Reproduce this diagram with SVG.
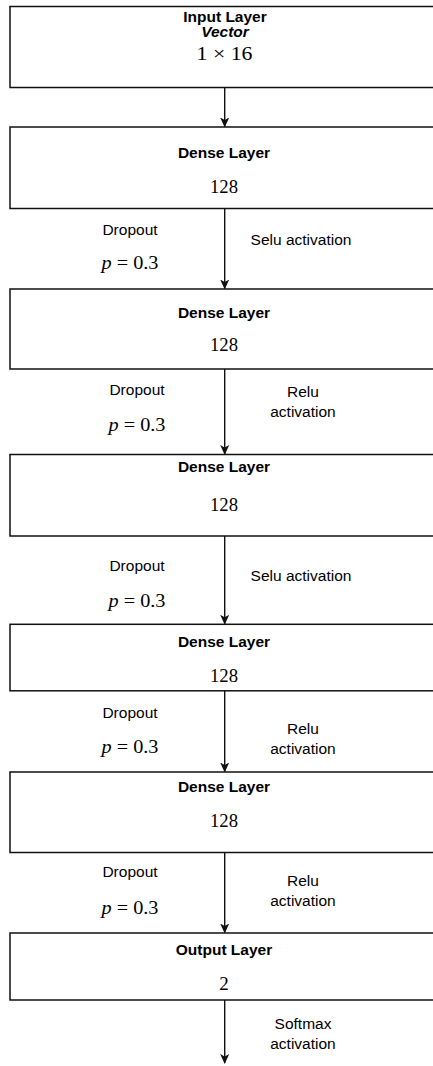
<svg xmlns="http://www.w3.org/2000/svg" width="433" height="1066" viewBox="0 0 433 1066">
<style>
.box{fill:#fff;stroke:#111;stroke-width:1.5}
.t{font-family:"Liberation Sans",Arial,sans-serif;font-size:15.5px;fill:#000;text-anchor:middle}
.b{font-weight:bold}
.bi{font-weight:bold;font-style:italic}
.m{font-family:"Liberation Serif","Times New Roman",serif;font-size:19px;fill:#000;text-anchor:middle}
.e{stroke:#111;stroke-width:1.4;fill:none;marker-end:url(#ah)}
</style>
<defs>
<marker id="ah" markerWidth="10" markerHeight="10" refX="9" refY="5" orient="auto" markerUnits="userSpaceOnUse" viewBox="0 0 10 10">
<path d="M0,0.5 L10,5 L0,9.5 L2.5,5 Z" fill="#111"/>
</marker>
</defs>
<rect width="433" height="1066" fill="#fff"/>
<g id="connectors">
<line class="e" x1="224.7" y1="87.5" x2="224.7" y2="126.5"/>
<line class="e" x1="224.7" y1="208.5" x2="224.7" y2="288.5"/>
<line class="e" x1="224.7" y1="369" x2="224.7" y2="454"/>
<line class="e" x1="224.7" y1="536" x2="224.7" y2="623.8"/>
<line class="e" x1="224.7" y1="691" x2="224.7" y2="771.5"/>
<line class="e" x1="224.7" y1="852.5" x2="224.7" y2="932.5"/>
<line class="e" x1="224.7" y1="1000" x2="224.7" y2="1063"/>
</g>
<g id="input">
<rect class="box" x="10" y="6.5" width="430" height="81"/>
<text class="t b" x="225" y="22">Input Layer</text>
<text class="t bi" x="225" y="37">Vector</text>
<text class="m" x="224.5" y="60" textLength="56" lengthAdjust="spacingAndGlyphs">1 × 16</text>
</g>
<g id="dense1">
<rect class="box" x="10" y="127" width="430" height="81.5"/>
<text class="t b" x="224" y="157.5">Dense Layer</text>
<text class="m" x="224" y="192.5" textLength="28" lengthAdjust="spacingAndGlyphs">128</text>
</g>
<g id="labels1">
<text class="t" x="130" y="235">Dropout</text>
<text class="m" x="130" y="269" textLength="57" lengthAdjust="spacingAndGlyphs"><tspan font-style="italic">p</tspan> = 0.3</text>
<text class="t" x="301" y="245">Selu activation</text>
</g>
<g id="dense2">
<rect class="box" x="10" y="289" width="430" height="80"/>
<text class="t b" x="224" y="317.5">Dense Layer</text>
<text class="m" x="224" y="351" textLength="28" lengthAdjust="spacingAndGlyphs">128</text>
</g>
<g id="labels2">
<text class="t" x="137" y="395">Dropout</text>
<text class="m" x="137" y="431" textLength="57" lengthAdjust="spacingAndGlyphs"><tspan font-style="italic">p</tspan> = 0.3</text>
<text class="t" x="303" y="397">Relu</text>
<text class="t" x="303" y="417">activation</text>
</g>
<g id="dense3">
<rect class="box" x="10" y="454.5" width="430" height="81.5"/>
<text class="t b" x="224" y="472">Dense Layer</text>
<text class="m" x="224" y="511" textLength="28" lengthAdjust="spacingAndGlyphs">128</text>
</g>
<g id="labels3">
<text class="t" x="137" y="571">Dropout</text>
<text class="m" x="137" y="607" textLength="57" lengthAdjust="spacingAndGlyphs"><tspan font-style="italic">p</tspan> = 0.3</text>
<text class="t" x="301" y="581">Selu activation</text>
</g>
<g id="dense4">
<rect class="box" x="10" y="624.3" width="430" height="66.5"/>
<text class="t b" x="224" y="647">Dense Layer</text>
<text class="m" x="224" y="682" textLength="28" lengthAdjust="spacingAndGlyphs">128</text>
</g>
<g id="labels4">
<text class="t" x="130" y="718">Dropout</text>
<text class="m" x="130" y="753" textLength="57" lengthAdjust="spacingAndGlyphs"><tspan font-style="italic">p</tspan> = 0.3</text>
<text class="t" x="303" y="734">Relu</text>
<text class="t" x="303" y="754">activation</text>
</g>
<g id="dense5">
<rect class="box" x="10" y="772" width="430" height="80.5"/>
<text class="t b" x="224" y="792">Dense Layer</text>
<text class="m" x="224" y="827" textLength="28" lengthAdjust="spacingAndGlyphs">128</text>
</g>
<g id="labels5">
<text class="t" x="130" y="877">Dropout</text>
<text class="m" x="130" y="914" textLength="57" lengthAdjust="spacingAndGlyphs"><tspan font-style="italic">p</tspan> = 0.3</text>
<text class="t" x="303" y="886">Relu</text>
<text class="t" x="303" y="906">activation</text>
</g>
<g id="output">
<rect class="box" x="10" y="933" width="430" height="67"/>
<text class="t b" x="224" y="955">Output Layer</text>
<text class="m" x="224" y="990">2</text>
</g>
<g id="labels6">
<text class="t" x="303" y="1029">Softmax</text>
<text class="t" x="303" y="1049">activation</text>
</g>
</svg>
